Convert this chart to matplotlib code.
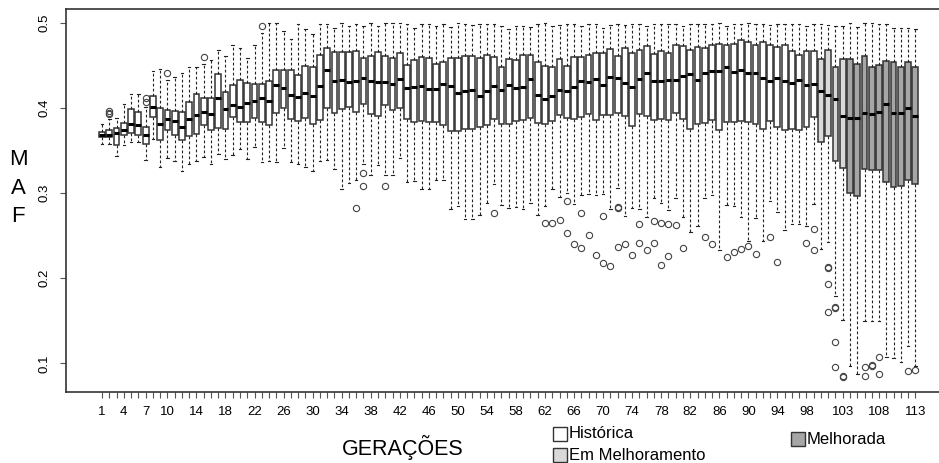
import matplotlib
matplotlib.use('Agg')
from matplotlib import pyplot as plt
from matplotlib.patches import Rectangle

plt.rcParams['font.family'] = ['Liberation Sans', 'DejaVu Sans']

# generations and breeding group of each one
geracoes = list(range(1, 114))
grupos = ['Histórica'] * 99 + ['Em Melhoramento'] * 4 + ['Melhorada'] * 10
cores = {'Histórica': 'white', 'Em Melhoramento': '#d9d9d9', 'Melhorada': '#a6a6a6'}

# five-number summaries of MAF per generation
whislo = [0.358, 0.358, 0.344, 0.357, 0.360, 0.360, 0.339, 0.364, 0.331, 0.342,
          0.338, 0.326, 0.334, 0.338, 0.343, 0.334, 0.346, 0.340, 0.345, 0.352,
          0.340, 0.354, 0.337, 0.338, 0.337, 0.353, 0.337, 0.334, 0.331, 0.326,
          0.338, 0.339, 0.328, 0.305, 0.312, 0.316, 0.335, 0.322, 0.333, 0.321,
          0.321, 0.341, 0.313, 0.315, 0.305, 0.305, 0.316, 0.316, 0.282, 0.285,
          0.270, 0.270, 0.275, 0.289, 0.311, 0.286, 0.283, 0.284, 0.282, 0.288,
          0.275, 0.285, 0.305, 0.296, 0.300, 0.287, 0.298, 0.299, 0.298, 0.299,
          0.282, 0.306, 0.273, 0.283, 0.281, 0.272, 0.294, 0.288, 0.280, 0.294,
          0.272, 0.254, 0.261, 0.294, 0.298, 0.233, 0.286, 0.285, 0.272, 0.244,
          0.271, 0.244, 0.291, 0.278, 0.257, 0.264, 0.264, 0.262, 0.287, 0.235,
          0.243, 0.179, 0.151, 0.097, 0.088, 0.150, 0.150, 0.150, 0.108, 0.106,
          0.101, 0.120, 0.097]
q1 = [0.366, 0.366, 0.357, 0.369, 0.371, 0.369, 0.358, 0.390, 0.363, 0.374,
      0.369, 0.363, 0.367, 0.370, 0.380, 0.374, 0.377, 0.376, 0.390, 0.384,
      0.384, 0.389, 0.384, 0.380, 0.395, 0.400, 0.387, 0.385, 0.389, 0.381,
      0.386, 0.400, 0.395, 0.399, 0.401, 0.396, 0.405, 0.393, 0.391, 0.404,
      0.398, 0.400, 0.387, 0.384, 0.385, 0.384, 0.384, 0.380, 0.373, 0.373,
      0.376, 0.376, 0.378, 0.380, 0.387, 0.382, 0.382, 0.385, 0.386, 0.389,
      0.383, 0.381, 0.385, 0.392, 0.388, 0.387, 0.390, 0.393, 0.386, 0.392,
      0.392, 0.395, 0.391, 0.379, 0.393, 0.391, 0.386, 0.387, 0.386, 0.395,
      0.387, 0.376, 0.381, 0.383, 0.386, 0.374, 0.384, 0.384, 0.385, 0.384,
      0.382, 0.376, 0.385, 0.378, 0.375, 0.376, 0.374, 0.378, 0.390, 0.360,
      0.367, 0.338, 0.330, 0.300, 0.297, 0.329, 0.327, 0.327, 0.313, 0.307,
      0.309, 0.316, 0.311]
mediana = [0.369, 0.369, 0.371, 0.374, 0.381, 0.380, 0.369, 0.402, 0.381, 0.387,
           0.385, 0.378, 0.387, 0.392, 0.396, 0.393, 0.412, 0.399, 0.404, 0.402,
           0.406, 0.408, 0.412, 0.408, 0.427, 0.424, 0.416, 0.413, 0.418, 0.414,
           0.426, 0.445, 0.432, 0.433, 0.431, 0.432, 0.436, 0.432, 0.431, 0.431,
           0.428, 0.435, 0.424, 0.425, 0.426, 0.423, 0.423, 0.428, 0.426, 0.418,
           0.420, 0.421, 0.414, 0.420, 0.426, 0.422, 0.427, 0.424, 0.425, 0.435,
           0.416, 0.411, 0.414, 0.421, 0.420, 0.425, 0.432, 0.431, 0.435, 0.427,
           0.437, 0.436, 0.430, 0.425, 0.434, 0.442, 0.432, 0.432, 0.433, 0.433,
           0.438, 0.440, 0.433, 0.441, 0.444, 0.444, 0.448, 0.443, 0.445, 0.441,
           0.441, 0.436, 0.432, 0.436, 0.432, 0.430, 0.433, 0.427, 0.429, 0.420,
           0.416, 0.411, 0.391, 0.389, 0.389, 0.395, 0.393, 0.396, 0.405, 0.395,
           0.394, 0.400, 0.391]
q3 = [0.372, 0.374, 0.377, 0.383, 0.399, 0.396, 0.378, 0.414, 0.400, 0.398,
      0.397, 0.396, 0.407, 0.417, 0.412, 0.412, 0.440, 0.419, 0.427, 0.433,
      0.430, 0.428, 0.429, 0.432, 0.445, 0.445, 0.445, 0.439, 0.450, 0.448,
      0.463, 0.471, 0.466, 0.466, 0.466, 0.467, 0.459, 0.462, 0.466, 0.462,
      0.459, 0.465, 0.451, 0.457, 0.460, 0.459, 0.452, 0.455, 0.459, 0.459,
      0.462, 0.462, 0.459, 0.463, 0.460, 0.449, 0.458, 0.457, 0.463, 0.463,
      0.455, 0.450, 0.448, 0.458, 0.450, 0.460, 0.460, 0.463, 0.465, 0.465,
      0.470, 0.461, 0.471, 0.465, 0.469, 0.473, 0.464, 0.467, 0.465, 0.475,
      0.473, 0.469, 0.472, 0.471, 0.475, 0.476, 0.475, 0.476, 0.480, 0.478,
      0.474, 0.478, 0.475, 0.472, 0.474, 0.467, 0.463, 0.467, 0.467, 0.458,
      0.469, 0.449, 0.458, 0.458, 0.452, 0.462, 0.449, 0.451, 0.456, 0.455,
      0.448, 0.454, 0.449]
whishi = [0.382, 0.387, 0.388, 0.405, 0.417, 0.417, 0.402, 0.444, 0.446, 0.433,
          0.437, 0.442, 0.448, 0.448, 0.452, 0.457, 0.469, 0.462, 0.475, 0.471,
          0.459, 0.474, 0.489, 0.500, 0.500, 0.491, 0.481, 0.499, 0.493, 0.487,
          0.499, 0.499, 0.494, 0.500, 0.497, 0.499, 0.497, 0.500, 0.497, 0.500,
          0.500, 0.500, 0.499, 0.494, 0.499, 0.499, 0.497, 0.499, 0.496, 0.500,
          0.499, 0.498, 0.499, 0.499, 0.499, 0.497, 0.493, 0.497, 0.497, 0.496,
          0.499, 0.500, 0.497, 0.498, 0.499, 0.499, 0.497, 0.499, 0.499, 0.494,
          0.498, 0.499, 0.498, 0.499, 0.499, 0.497, 0.499, 0.499, 0.499, 0.499,
          0.497, 0.499, 0.499, 0.499, 0.499, 0.500, 0.497, 0.499, 0.499, 0.500,
          0.499, 0.499, 0.498, 0.499, 0.499, 0.499, 0.499, 0.497, 0.499, 0.499,
          0.498, 0.497, 0.497, 0.500, 0.496, 0.500, 0.500, 0.499, 0.499, 0.494,
          0.494, 0.495, 0.493]
# outlying values, by generation
outliers = {2: [0.397, 0.395, 0.393], 7: [0.412, 0.407], 10: [0.442], 15: [0.460],
            23: [0.497], 36: [0.283], 37: [0.324, 0.308], 40: [0.309], 55: [0.277],
            62: [0.265], 63: [0.265], 64: [0.269], 65: [0.291, 0.253], 66: [0.240],
            67: [0.236, 0.277], 68: [0.251], 69: [0.227], 70: [0.273, 0.218],
            71: [0.215], 72: [0.284, 0.283, 0.237], 73: [0.240], 74: [0.227],
            75: [0.264, 0.241], 76: [0.233], 77: [0.267, 0.241], 78: [0.265, 0.216],
            79: [0.264, 0.226], 80: [0.263], 81: [0.236], 84: [0.248], 85: [0.240],
            87: [0.225], 88: [0.231], 89: [0.234], 90: [0.238], 91: [0.228],
            93: [0.249], 94: [0.219], 98: [0.242], 99: [0.258, 0.233],
            101: [0.213, 0.212, 0.193, 0.160], 102: [0.166, 0.165, 0.125, 0.096],
            103: [0.085, 0.084], 106: [0.096, 0.085], 107: [0.098, 0.097],
            108: [0.108, 0.087], 112: [0.091], 113: [0.092]}

rotulos_x = [1, 4, 7, 10, 14, 18, 22, 26, 30, 34, 38, 42, 46, 50, 54, 58, 62, 66,
             70, 74, 78, 82, 86, 90, 94, 98, 103, 108, 113]
legenda = ['Histórica', 'Em Melhoramento', 'Melhorada']

W, H = 939, 463
fig = plt.figure(figsize=(W / 100, H / 100), dpi=100)
x0, x1, y0, y1 = 65.6, 951.8, 9, 391.7
ax = fig.add_axes([x0 / W, 1 - y1 / H, (x1 - x0) / W, (y1 - y0) / H])

stats = []
for i, g in enumerate(geracoes):
    stats.append({'med': mediana[i], 'q1': q1[i], 'q3': q3[i],
                  'whislo': whislo[i], 'whishi': whishi[i],
                  'fliers': outliers.get(g, [])})

bp = ax.bxp(stats, positions=geracoes, widths=0.8, capwidths=0.35,
            patch_artist=True, manage_ticks=False,
            boxprops=dict(edgecolor='#333333', linewidth=1.1),
            medianprops=dict(color='black', linewidth=2.2, solid_capstyle='butt'),
            whiskerprops=dict(color='#222222', linewidth=0.8, linestyle=(0, (2.5, 2))),
            capprops=dict(color='#222222', linewidth=0.8),
            flierprops=dict(marker='o', markersize=4.5, markerfacecolor='none',
                            markeredgecolor='#444444', markeredgewidth=0.8))
for caixa, grupo in zip(bp['boxes'], grupos):
    caixa.set_facecolor(cores[grupo])

ax.set_xlim(-4.02, 118.02)
ax.set_ylim(0.0666, 0.5168)
for s in ax.spines.values():
    s.set_color('#333333')
    s.set_linewidth(1.2)

ax.set_xticks(geracoes)
ax.set_xticklabels([str(g) if g in rotulos_x else '' for g in geracoes], fontsize=9.5)
ax.tick_params(axis='x', length=4.5, width=0.8, color='#555555', pad=6)
ax.set_yticks([0.1, 0.2, 0.3, 0.4, 0.5])
ax.set_yticklabels(['0.1', '0.2', '0.3', '0.4', '0.5'], rotation=90, va='center', fontsize=9.5)
ax.tick_params(axis='y', length=4, width=0.8, color='#555555', pad=7)

fig.text(18 / W, 1 - 188 / H, 'M\nA\nF', ha='center', va='center', fontsize=16,
         linespacing=1.45)
fig.text(403 / W, 1 - 447 / H, 'GERAÇÕES', ha='center', va='center', fontsize=15.5)

# legend squares and labels
posicoes = [(553, 434), (553, 455), (791, 439)]
for nome, (lx, ly) in zip(legenda, posicoes):
    fig.patches.append(Rectangle((lx / W, 1 - (ly + 7) / H), 14 / W, 14 / H,
                                 transform=fig.transFigure, facecolor=cores[nome],
                                 edgecolor='#333333', linewidth=1))
    fig.text((lx + 16) / W, 1 - ly / H, nome, ha='left', va='center', fontsize=12)

fig.savefig('out.png', dpi=100)
